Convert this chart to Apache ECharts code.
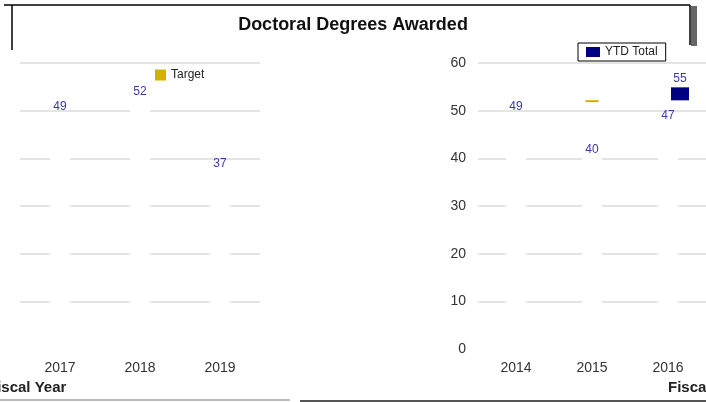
<!DOCTYPE html>
<html>
<head>
<meta charset="utf-8">
<script src="https://cdn.jsdelivr.net/npm/echarts@6/dist/echarts.min.js"></script>
<style>
html,body{margin:0;padding:0;background:#fff;}
#chart{width:706px;height:402px;}
</style>
</head>
<body>
<div id="chart"></div>
<script>
var chart = echarts.init(document.getElementById('chart'));

// data
var years = ['2014', '2015', '2016', '2017', '2018', '2019'];
var awarded = [49, 40, 47, 49, 52, 37];          // bars
var ytdTotal = [null, null, 55, null, null, null]; // navy marker
var target = [null, 52, null, null, null, null];   // gold dash
var yTicks = [0, 10, 20, 30, 40, 50, 60];

var NAVY = '#000080';
var GOLD = '#d4b000';
var LABEL = '#3a3aa6';

// the picture wraps: 2014-2016 on the right, 2017-2019 on the left
var parts = [[0, 3], [3, 6]];

function cut(arr, i) { return arr.slice(parts[i][0], parts[i][1]); }

var series = [];
[0, 1].forEach(function (i) {
  series.push({
    name: 'Awarded', type: 'bar', xAxisIndex: i, yAxisIndex: i,
    data: cut(awarded, i), barWidth: 20, z: 3,
    itemStyle: { color: '#ffffff' },
    label: { show: true, position: 'top', color: LABEL, fontSize: 12, distance: 3, fontFamily: 'Liberation Sans' }
  });
  series.push({
    name: 'YTD Total', type: 'scatter', xAxisIndex: i, yAxisIndex: i,
    data: cut(ytdTotal, i), symbol: 'rect', symbolSize: [18, 13], symbolOffset: [12, 7], z: 4,
    itemStyle: { color: NAVY, opacity: 1 },
    label: { show: true, position: 'top', color: LABEL, fontSize: 12, distance: 3, fontFamily: 'Liberation Sans' }
  });
  series.push({
    name: 'Target', type: 'scatter', xAxisIndex: i, yAxisIndex: i,
    data: cut(target, i), symbol: 'rect', symbolSize: [13, 2], z: 4,
    itemStyle: { color: GOLD, opacity: 1 }
  });
});

var axisFont = { color: '#333', fontSize: 14, fontFamily: 'Liberation Sans' };

var option = {
  backgroundColor: '#ffffff',
  animation: false,
  title: {
    text: 'Doctoral Degrees Awarded', left: 'center', top: 11,
    textStyle: { fontSize: 18, fontWeight: 'bold', color: '#111', fontFamily: 'Liberation Sans' }
  },
  legend: [
    {
      data: [{ name: 'YTD Total', itemStyle: { color: NAVY } }],
      left: 578, top: 43, itemWidth: 14, itemHeight: 10, padding: [3, 8],
      borderColor: '#000', borderWidth: 1,
      textStyle: { fontSize: 12, color: '#222', fontFamily: 'Liberation Sans' }
    },
    {
      data: [{ name: 'Target', itemStyle: { color: GOLD } }],
      left: 150, top: 64, itemWidth: 11, itemHeight: 11, itemGap: 10,
      textStyle: { fontSize: 12, color: '#222', fontFamily: 'Liberation Sans' }
    }
  ],
  grid: [
    { left: 478, width: 228, top: 63, bottom: 53 },
    { left: 20, width: 240, top: 63, bottom: 53 }
  ],
  xAxis: [0, 1].map(function (i) {
    return {
      type: 'category', gridIndex: i, data: cut(years, i),
      axisLine: { show: false }, axisTick: { show: false },
      axisLabel: Object.assign({ margin: 12 }, axisFont)
    };
  }),
  yAxis: [0, 1].map(function (i) {
    return {
      type: 'value', gridIndex: i, min: yTicks[0], max: yTicks[yTicks.length - 1], interval: 10,
      axisLine: { show: false }, axisTick: { show: false },
      axisLabel: Object.assign({ show: i === 0, margin: 12 }, axisFont),
      splitLine: { show: true, showMinLine: false, lineStyle: { color: '#e4e4e4', width: 2 } }
    };
  }),
  graphic: [
    { type: 'line', shape: { x1: 4, y1: 5, x2: 690, y2: 5 }, style: { stroke: '#000', lineWidth: 1.5 } },
    { type: 'line', shape: { x1: 12, y1: 5, x2: 12, y2: 50 }, style: { stroke: '#000', lineWidth: 1.5 } },
    { type: 'line', shape: { x1: 690, y1: 5, x2: 690, y2: 45 }, style: { stroke: '#000', lineWidth: 1.5 } },
    { type: 'rect', shape: { x: 691, y: 6, width: 6, height: 40 }, style: { fill: '#666' } },
    { type: 'text', left: -12, top: 380, style: { text: 'Fiscal Year', fontSize: 15, fontWeight: 'bold', fill: '#222', fontFamily: 'Liberation Sans' } },
    { type: 'text', left: 668, top: 380, style: { text: 'Fiscal Year', fontSize: 15, fontWeight: 'bold', fill: '#222', fontFamily: 'Liberation Sans' } },
    { type: 'line', shape: { x1: 0, y1: 400, x2: 290, y2: 400 }, style: { stroke: '#bbb', lineWidth: 2 } },
    { type: 'line', shape: { x1: 300, y1: 401, x2: 706, y2: 401 }, style: { stroke: '#555', lineWidth: 2 } }
  ],
  series: series
};
chart.setOption(option);
</script>
</body>
</html>
